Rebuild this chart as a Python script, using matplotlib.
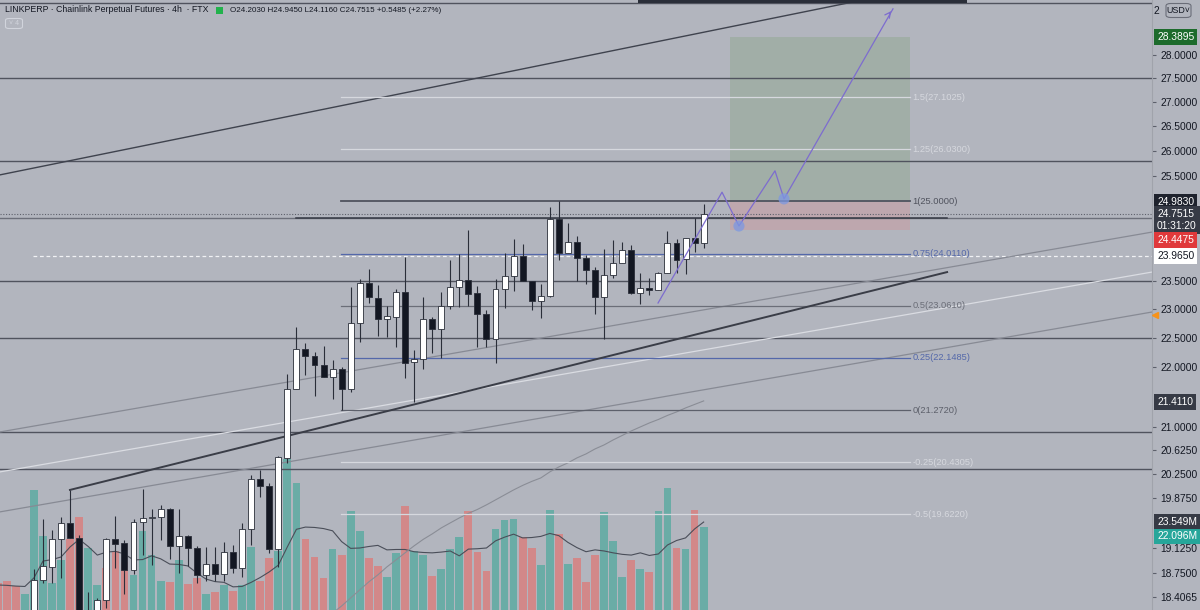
import numpy as np
import matplotlib
matplotlib.use('Agg')
import matplotlib.pyplot as plt
from matplotlib.patches import Rectangle, FancyBboxPatch

plt.rcParams['font.family'] = ['Liberation Sans', 'DejaVu Sans']

# LINKPERP 4h candles, oldest first (bar index = position)
opens = [18.08, 18.02, 17.94, 17.86, 17.95, 18.652, 18.845, 19.253, 19.485, 19.272,
         18.00, 18.06, 18.365, 19.253, 19.189, 18.797, 19.508, 19.564, 19.584, 19.705,
         19.149, 19.301, 19.120, 18.720, 18.884, 18.739, 19.060, 18.830, 19.398, 20.168,
         20.059, 19.105, 20.499, 21.623, 22.302, 22.182, 22.028, 21.83, 21.96, 21.623,
         22.756, 23.472, 23.206, 22.832, 22.867, 23.309, 22.08, 22.131, 22.827, 22.651,
         23.057, 23.405, 23.526, 23.291, 22.915, 22.475, 23.363, 23.599, 23.967, 23.513,
         23.147, 23.242, 24.669, 24.028, 24.228, 23.930, 23.709, 23.219, 23.617, 23.843,
         24.078, 23.291, 23.387, 23.345, 23.654, 24.204, 23.906, 24.309, 24.2030]
highs = [18.15, 18.10, 18.00, 17.98, 18.81, 19.553, 19.387, 19.584, 19.997, 19.317,
         18.472, 18.394, 19.268, 19.599, 19.238, 19.553, 20.012, 19.702, 19.766, 19.720,
         19.705, 19.311, 19.149, 19.130, 19.134, 19.213, 19.164, 19.488, 20.230, 20.309,
         20.110, 20.530, 21.876, 22.691, 22.41, 22.256, 22.354, 22.114, 22.0, 23.405,
         23.544, 23.727, 23.435, 23.057, 23.363, 23.954, 22.285, 23.219, 22.867, 23.309,
         23.893, 24.004, 24.454, 23.423, 22.986, 23.544, 24.022, 24.284, 24.191, 23.513,
         23.454, 24.887, 25.010, 24.592, 24.347, 23.985, 23.764, 24.091, 24.266, 24.228,
         24.172, 23.649, 23.557, 23.678, 24.441, 24.284, 24.309, 24.676, 24.9450]
lows = [17.98, 17.90, 17.82, 17.80, 17.90, 18.609, 18.609, 18.674, 19.26, 17.95,
        17.90, 18.00, 18.25, 18.829, 18.443, 18.739, 19.016, 18.874, 19.231, 18.952,
        18.758, 18.855, 18.604, 18.642, 18.638, 18.642, 18.749, 18.694, 19.164, 19.889,
        19.046, 18.840, 20.419, 21.614, 21.859, 21.506, 21.82, 21.461, 21.274, 21.578,
        22.429, 23.111, 22.533, 22.516, 22.343, 21.813, 21.411, 21.96, 22.239, 22.153,
        22.998, 23.045, 23.063, 22.33, 22.341, 22.057, 23.027, 23.332, 23.508, 22.986,
        22.849, 23.213, 23.893, 24.028, 23.508, 23.448, 22.915, 22.475, 23.557, 23.843,
        23.273, 23.088, 23.255, 23.345, 23.654, 23.649, 23.636, 24.047, 24.1160]
closes = [18.02, 17.94, 17.86, 17.95, 18.652, 18.855, 19.257, 19.485, 19.268, 18.00,
          18.06, 18.358, 19.253, 19.183, 18.797, 19.508, 19.568, 19.579, 19.705, 19.149,
          19.301, 19.120, 18.720, 18.884, 18.739, 19.060, 18.830, 19.398, 20.168, 20.063,
          19.105, 20.515, 21.623, 22.302, 22.182, 22.028, 21.83, 21.96, 21.623, 22.756,
          23.472, 23.219, 22.832, 22.879, 23.309, 22.068, 22.131, 22.827, 22.651, 23.057,
          23.405, 23.526, 23.273, 22.915, 22.475, 23.363, 23.599, 23.967, 23.508, 23.147,
          23.242, 24.669, 24.028, 24.228, 23.930, 23.709, 23.219, 23.617, 23.843, 24.078,
          23.291, 23.387, 23.350, 23.654, 24.204, 23.893, 24.309, 24.204, 24.7515]

# volume in millions, u = teal / d = red as shown
volume = [7.2, 7.8, 6.4, 4.3, 32.1, 19.8, 7.2, 13.4, 19.0, 24.9,
          16.6, 6.7, 11.2, 15.8, 12.9, 9.4, 21.2, 14.7, 7.8, 7.5,
          13.5, 7.0, 8.7, 4.3, 4.7, 6.6, 5.2, 6.6, 16.9, 7.8,
          13.8, 15.9, 40.4, 34.1, 19.0, 14.3, 8.6, 16.3, 14.6, 26.5,
          21.2, 14.0, 11.8, 8.8, 15.3, 27.8, 15.8, 14.8, 9.1, 11.1,
          16.3, 19.5, 26.5, 15.6, 10.4, 21.6, 24.1, 24.3, 19.6, 16.5,
          12.1, 26.9, 20.3, 12.4, 14.0, 7.5, 14.6, 26.2, 18.5, 8.9,
          13.4, 11.1, 10.2, 26.5, 32.7, 16.7, 16.3, 26.9, 22.096]
vol_dir = list('ddduuuuudd' 'uuddduuuud' 'uddududuud' 'duuudddudu'
               'udduuduudu' 'uuddduuudd' 'uududdduuu' 'duduududu')
vol_ma = [6.7, 6.6, 6.4, 6.3, 8.6, 13.1, 13.5, 14.2, 16.9, 18.9,
          17.0, 14.7, 15.5, 15.7, 15.0, 13.4, 13.5, 14.5, 13.7, 12.3,
          12.2, 11.8, 9.9, 8.3, 7.6, 7.4, 6.2, 6.3, 7.4, 8.7,
          10.2, 12.0, 16.9, 21.6, 22.2, 22.1, 21.8, 21.2, 18.3, 16.5,
          16.6, 17.0, 17.3, 16.1, 16.2, 16.2, 15.6, 15.4, 15.3, 15.5,
          15.8, 14.5, 16.3, 16.4, 16.6, 18.5, 19.5, 20.3, 19.3, 19.4,
          19.7, 20.5, 19.9, 18.1, 16.7, 15.6, 16.1, 15.8, 15.3, 14.9,
          14.7, 15.3, 14.6, 15.0, 17.4, 18.6, 19.3, 21.7, 23.549]

# moving average on price, from bar 37 on
ma_start = 37
price_ma = [18.18, 18.279, 18.394, 18.508, 18.623, 18.724, 18.84, 18.942, 19.046, 19.149,
            19.245, 19.327, 19.417, 19.493, 19.568, 19.637, 19.697, 19.767, 19.843, 19.920,
            19.997, 20.067, 20.129, 20.183, 20.278, 20.356, 20.420, 20.499, 20.562, 20.642,
            20.706, 20.786, 20.858, 20.931, 20.996, 21.061, 21.118, 21.184, 21.241, 21.307,
            21.365, 21.423]

# drawings
h_levels = [29.15, 27.5, 25.80, 23.5, 22.5, 20.92, 20.33]
res_level = 24.68
fib_ratio = [1.5, 1.25, 1, 0.75, 0.5, 0.25, 0, -0.25, -0.5]
fib_price = [27.1025, 26.0300, 25.0000, 24.0110, 23.0610, 22.1485, 21.2720, 20.4305, 19.6220]
fib_from, fib_to = 37.9, 100.8
trend_top = ([0.25, 95.6], [25.52, 29.22])
trend_main = ([7.98, 104.9], [19.997, 23.67])
trend_mid = ([0.25, 127.6], [20.915, 24.416])
trend_white = ([0.25, 127.6], [20.278, 23.672])
trend_low = ([0.25, 127.6], [19.660, 22.951])
entry, target, stop = 24.983, 28.3895, 24.4475
pos_from, pos_to = 80.9, 100.8
proj_x = [72.96, 80.03, 81.9, 85.88, 86.88, 98.92]
proj_y = [23.11, 25.18, 24.53, 25.60, 25.05, 29.02]
last_price = 24.7515
alert_price = 23.965
low_mark = 21.411
tick_vals = [28.0, 27.5, 27.0, 26.5, 26.0, 25.5, 23.5, 23.0, 22.5, 22.0,
             21.0, 20.625, 20.25, 19.875, 19.125, 18.75, 18.4065]

BG = '#b2b5be'
DARK = '#131722'
LINE = '#50535e'

fig = plt.figure(figsize=(12, 6.1), dpi=100)
fig.patch.set_facecolor(BG)
rect = [0, 0, 1152 / 1200, 1]
axv = fig.add_axes(rect)
ax = fig.add_axes(rect, sharex=axv)
axv.set_facecolor(BG)
ax.patch.set_alpha(0)

n = len(opens)
x = np.arange(n)
ax.set_xlim(0.2486, 127.54)

# volume pane
vcol = ['#6aaca6' if d == 'u' else '#d28889' for d in vol_dir]
axv.bar(x, volume, width=0.86, color=vcol, linewidth=0)
axv.plot(x, vol_ma, color='#4a4e59', lw=0.8)
axv.set_ylim(0, 163.3)
axv.axis('off')

ax.set_yscale('log')
ax.set_ylim(18.222, 29.219)

# position box
ax.add_patch(Rectangle((pos_from, entry), pos_to - pos_from, target - entry,
                       fc='#a1aea7', ec='none', zorder=1))
ax.add_patch(Rectangle((pos_from, stop), pos_to - pos_from, entry - stop,
                       fc='#bea7ae', ec='none', zorder=1))

for lv in h_levels:
    ax.axhline(lv, color=LINE, lw=1.0, zorder=2)
ax.axhline(res_level, color='#6c6f7a', lw=1.0, zorder=2)
ax.plot([32.96, 104.9], [res_level, res_level], color='#363a45', lw=1.1, zorder=2)
ax.axhline(last_price, color='#5d606b', lw=0.8, ls=(0, (1, 1.5)), zorder=2)
ax.plot([3.9, 127.6], [alert_price, alert_price], color='#f0f1f4', lw=0.9,
        ls=(0, (3, 2.2)), zorder=2)

ax.plot(*trend_top, color='#3f434e', lw=1.0, zorder=2)
ax.plot(*trend_mid, color='#878a94', lw=0.9, zorder=2)
ax.plot(*trend_white, color='#dadce2', lw=0.9, zorder=2)
ax.plot(*trend_low, color='#878a94', lw=0.9, zorder=2)
ax.plot(*trend_main, color='#3a3d47', lw=1.4, zorder=3)
ax.plot(np.arange(ma_start, ma_start + len(price_ma)), price_ma, color='#8a8d96',
        lw=0.8, zorder=2)

# fib retracement
fib_style = {1.5: '#d6d8de', 1.25: '#d6d8de', 1: '#50535e', 0.75: '#5468aa', 0.5: '#6b6e78',
             0.25: '#5468aa', 0: '#5d606b', -0.25: '#d6d8de', -0.5: '#d6d8de'}
for r, p in zip(fib_ratio, fib_price):
    c = fib_style[r]
    ax.plot([fib_from, fib_to], [p, p], color=c, lw=1.3 if r == 1 else 0.9, zorder=2)
    ax.text(fib_to + 0.3, p, f'{r:g}({p:.4f})', color=c, fontsize=6.7,
            va='center', ha='left', zorder=3)

# candles
for i in range(n):
    o, h, l, c = opens[i], highs[i], lows[i], closes[i]
    up = c >= o
    ax.vlines(i, l, h, color='#2a2e39', lw=0.8, zorder=4)
    ax.bar(i, abs(c - o), bottom=min(o, c), width=0.66,
           color='#ffffff' if up else DARK, edgecolor='#2a2e39', linewidth=0.6, zorder=5)

# projection path
ax.plot(proj_x, proj_y, color='#7d6ccf', lw=0.9, zorder=6)
ax.annotate('', xy=(proj_x[-1], proj_y[-1]), xytext=(proj_x[-1] - 0.6, proj_y[-1] - 0.16),
            arrowprops=dict(arrowstyle='->', color='#7d6ccf', lw=0.9), zorder=6)
ax.scatter([proj_x[2], proj_x[4]], [proj_y[2], proj_y[4]], s=65, color='#7d98e2',
           alpha=0.75, edgecolors='none', zorder=6)

# right price scale
ax.yaxis.tick_right()
ax.set_yticks(tick_vals)
ax.set_yticklabels([f'{v:.4f}' for v in tick_vals])
ax.yaxis.set_minor_locator(matplotlib.ticker.NullLocator())
ax.tick_params(axis='y', length=3, width=0.8, color='#5d606b', labelsize=7.4,
               labelcolor=DARK, pad=3)
ax.tick_params(axis='x', bottom=False, labelbottom=False)
for s in ['top', 'left', 'bottom']:
    ax.spines[s].set_visible(False)
ax.spines['right'].set_color('#a0a3ab')
ax.spines['right'].set_linewidth(0.8)

ytr = ax.get_yaxis_transform()


def tag(a, y, text, fc, tc, dy=0):
    a.annotate(text, xy=(1.0, y), xycoords=a.get_yaxis_transform(), xytext=(5, dy),
               textcoords='offset pixels', ha='left', va='center', fontsize=7.4,
               color=tc, linespacing=1.25, annotation_clip=False, zorder=10,
               bbox=dict(boxstyle='square,pad=0.28', fc=fc, ec='none'))


tag(ax, target, '28.3895', '#1d6b2c', 'white')
tag(ax, entry, '24.9830', '#1e222d', 'white')
tag(ax, last_price, '24.7515\n01:31:20', '#363a45', 'white', dy=-6)
tag(ax, stop, '24.4475', '#e0393b', 'white', dy=-10)
tag(ax, alert_price, '23.9650', 'white', DARK)
tag(ax, low_mark, '21.4110', '#363a45', 'white')
tag(axv, vol_ma[-1], '23.549M', '#363a45', 'white')
tag(axv, volume[-1], '22.096M', '#26a69a', 'white', dy=-9)
ax.plot([1.0 + 3 / 1152], [22.9], marker='<', color='#f7931a', ms=4,
        transform=ytr, clip_on=False, zorder=10)

# header / chrome
fig.add_artist(Rectangle((638 / 1200, 1 - 2.5 / 610), 329 / 1200, 2.5 / 610,
                         transform=fig.transFigure, fc='#2a2e39', ec='none'))
fig.text(5 / 1200, 1 - 10 / 610, 'LINKPERP · Chainlink Perpetual Futures · 4h  · FTX',
         fontsize=6.3, color=DARK, va='center')
fig.add_artist(Rectangle((216 / 1200, 1 - 13.5 / 610), 6.5 / 1200, 7 / 610,
                         transform=fig.transFigure, fc='#22b24c', ec='none'))
fig.text(230 / 1200, 1 - 10 / 610,
         'O24.2030 H24.9450 L24.1160 C24.7515 +0.5485 (+2.27%)',
         fontsize=5.8, color=DARK, va='center')
fig.add_artist(FancyBboxPatch((5.5 / 1200, 1 - 28.5 / 610), 17 / 1200, 10 / 610,
                              boxstyle='round,pad=0,rounding_size=0.003',
                              transform=fig.transFigure, fc='none', ec='#d1d4dc', lw=0.8))
fig.text(14 / 1200, 1 - 23.5 / 610, '\u02c5 4', fontsize=5, color='#d1d4dc',
         ha='center', va='center')
fig.text(1154 / 1200, 1 - 10.5 / 610, '2', fontsize=7.4, color=DARK,
         ha='left', va='center')
fig.add_artist(FancyBboxPatch((1166 / 1200, 1 - 17.5 / 610), 25 / 1200, 14 / 610,
                              boxstyle='round,pad=0,rounding_size=0.004',
                              transform=fig.transFigure, fc=BG, ec='#6a6d78', lw=0.8,
                              zorder=20))
fig.text(1178.5 / 1200, 1 - 10.5 / 610, 'USD\u02c5', fontsize=6.4, color=DARK,
         ha='center', va='center', zorder=21)

fig.savefig('out.png', dpi=100, facecolor=BG)
